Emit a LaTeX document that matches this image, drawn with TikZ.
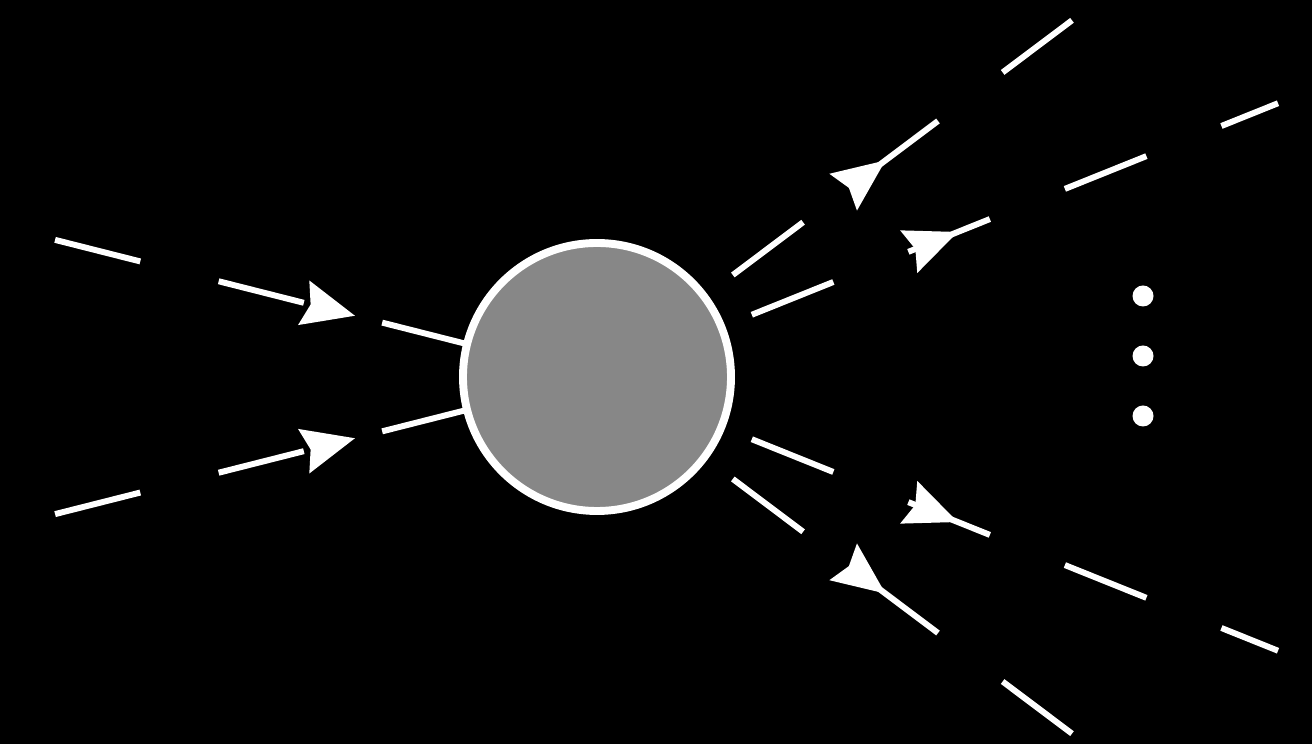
\documentclass[tikz,border=0pt]{standalone}
\usepackage{xcolor}
\usepackage{tikz}
\usetikzlibrary{arrows.meta, decorations.markings}

\definecolor{blobgrey}{gray}{0.53}

\begin{document}
\begin{tikzpicture}[white, line width=3.4pt,
    blob/.style={circle, draw=white, fill=blobgrey, line width=4.5pt,
        minimum size=5.36cm, inner sep=0pt, outer sep=0pt},
    dot/.style={circle, fill=white, minimum size=0.42cm, inner sep=0pt},
    arrowat/.style={postaction={decorate}, decoration={markings,
        mark=at position #1 with {\arrow{Stealth[length=30pt, width=26pt, inset=4pt, line width=1pt]}}}},
    fin/.style={dash pattern=on 50pt off 46pt, arrowat=176pt},
    fout/.style={dash pattern=on 50pt off 46pt, dash phase=#1}]
    \fill[black] (-11.94,-7.34) rectangle (14.30,7.54);
    \useasboundingbox (-11.94,-7.34) rectangle (14.30,7.54);

    \node[blob] (blob) at (0,0) {};

    \coordinate (inU) at (165.8:11.18);
    \coordinate (inD) at (194.2:11.18);
    \coordinate (outA) at (36.9:11.88);
    \coordinate (outB) at (21.9:14.68);
    \coordinate (outC) at (-21.9:14.68);
    \coordinate (outD) at (-36.9:11.88);

    \path
    (inU) edge[fin] (blob)
    (inD) edge[fin] (blob)
    (blob) edge[fout=75.6pt, arrowat=129pt] (outA)
    (blob) edge[fout=77.3pt, arrowat=145pt] (outB)
    (blob) edge[fout=77.3pt, arrowat=145pt] (outC)
    (blob) edge[fout=75.6pt, arrowat=129pt] (outD);

    % dots
    \node[dot] (d1) at (10.92,1.62) {};
    \node[dot] (d2) at (10.92,0.42) {};
    \node[dot] (d3) at (10.92,-0.78) {};
\end{tikzpicture}
\end{document}
